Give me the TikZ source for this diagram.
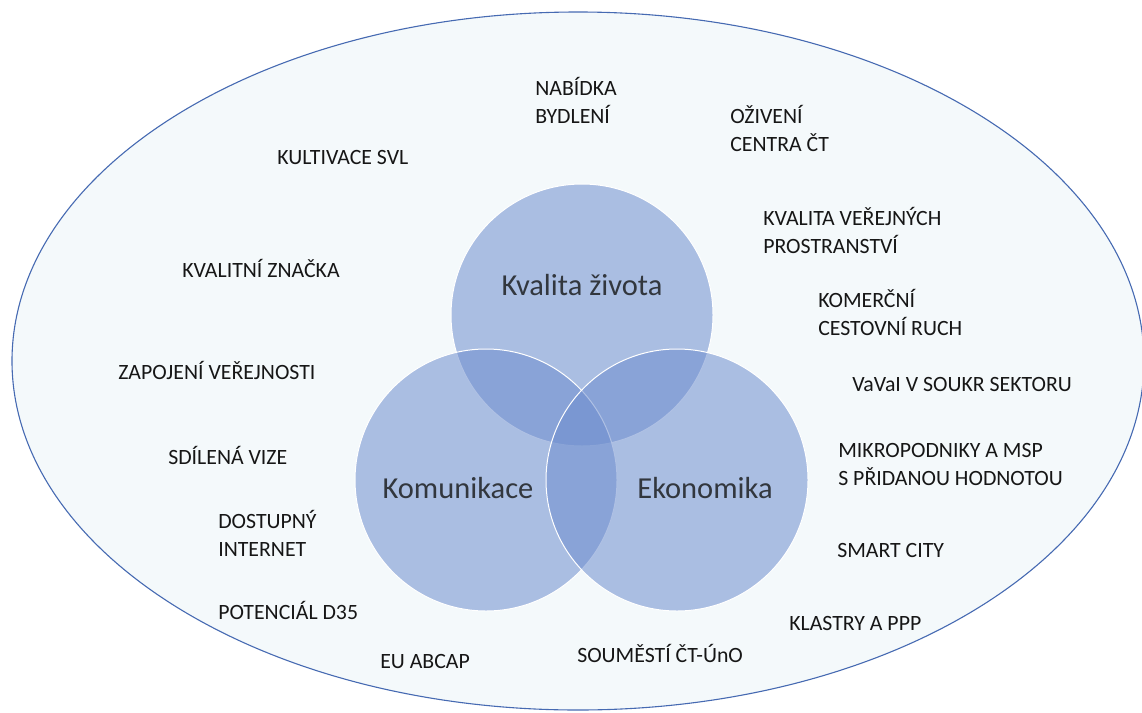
\documentclass[tikz,border=0pt]{standalone}
\usepackage{fontspec}
\setmainfont{Carlito}
\usetikzlibrary{positioning}

\definecolor{ovalfill}{RGB}{244,249,251}
\definecolor{ovalline}{RGB}{70,106,178}
\definecolor{venncol}{RGB}{110,142,206}
\definecolor{ink}{RGB}{22,22,22}
\definecolor{headink}{RGB}{50,55,62}

\begin{document}
\begin{tikzpicture}[x = 1pt, y = -1pt, % pixel grid, y going down
                font = \fontsize{21.8}{28}\selectfont, % small caps labels
                semithick % line style
            ]

            \tikzstyle{item}=[anchor = west, align = left, text = ink, inner sep = 0pt]
            \tikzstyle{vennc}=[circle, minimum size = 262pt, inner sep = 0pt,
            fill = venncol, fill opacity = 0.55, draw = white, line width = 1pt]
            \tikzstyle{head}=[text = headink, inner sep = 0pt,
            font = \fontsize{30.5}{36}\selectfont]

            \useasboundingbox (0,0) rectangle (1142,712);
            \clip (0,0) rectangle (1142,712);

            % big oval
            \draw[fill = ovalfill, draw = ovalline, line width = 1.1pt] (578,361)
            ellipse [x radius = 566pt, y radius = 349pt];

            % venn circles
            \node[vennc] (kval) at (582,315) {}; \node[vennc] (komu) at (486,480)
            {}; \node[vennc] (ekon) at (677,480) {};

            \node[head] (kvalt) at (582,285) {Kvalita života}; \node[head] (komut)
            at (458,488) {Komunikace}; \node[head] (ekont) at (705,488) {Ekonomika};

            % left side
            \node[item] (kult) at (277,158) {KULTIVACE SVL}; \node[item] (znac) at
            (182,268) {KVALITNÍ ZNAČKA}; \node[item] (zapo) at (118,370) {ZAPOJENÍ
            VEŘEJNOSTI}; \node[item] (sdil) at (168,455) {SDÍLENÁ VIZE};
            \node[item] (dost) at (218,533) {DOSTUPNÝ\\INTERNET}; \node[item] (pote)
            at (218,610) {POTENCIÁL D35}; \node[item] (euab) at (380,661) {EU ABCAP};

            % top and right side
            \node[item] (nabi) at (535,100) {NABÍDKA\\BYDLENÍ}; \node[item] (oziv)
            at (730,128) {OŽIVENÍ\\CENTRA ČT}; \node[item] (vere) at (763,230)
            {KVALITA VEŘEJNÝCH\\PROSTRANSTVÍ}; \node[item] (kome) at (818,312)
            {KOMERČNÍ\\CESTOVNÍ RUCH}; \node[item] (vava) at (852,385) {VaVaI V
            SOUKR SEKTORU}; \node[item] (mikr) at (838,464) {MIKROPODNIKY A
            MSP\\S PŘIDANOU HODNOTOU}; \node[item] (smar) at (837,550) {SMART
            CITY}; \node[item] (klas) at (789,623) {KLASTRY A PPP}; \node[item]
            (soum) at (577,653) {SOUMĚSTÍ ČT-ÚnO};
\end{tikzpicture}
\end{document}
